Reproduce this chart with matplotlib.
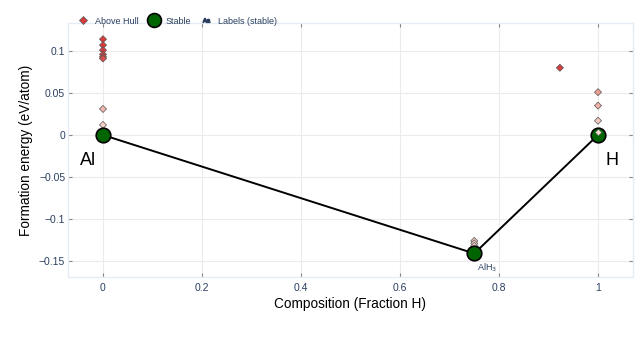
import numpy as np
import matplotlib
matplotlib.use('Agg')
import matplotlib.pyplot as plt
from matplotlib.colors import LinearSegmentedColormap
from matplotlib.lines import Line2D
from matplotlib.ticker import FuncFormatter

plt.rcParams['font.family'] = ['Liberation Sans', 'DejaVu Sans']

# Stable phases (convex hull)
stable_x = [0.0, 0.75, 1.0]
stable_e = [0.0, -0.141, 0.0]
stable_names = ['Al', 'AlH$_3$', 'H']

# Unstable (above hull) entries
unstable_x = [0, 0, 0, 0, 0, 0, 0, 0,
              0.75, 0.75, 0.75, 0.75,
              0.923, 1, 1, 1, 1]
unstable_e = [0.114, 0.107, 0.101, 0.096, 0.093, 0.091, 0.031, 0.012,
              -0.126, -0.129, -0.132, -0.136,
              0.080, 0.051, 0.035, 0.017, 0.003]
e_above_hull = [0.114, 0.107, 0.101, 0.096, 0.093, 0.091, 0.031, 0.012,
                0.015, 0.012, 0.009, 0.005,
                0.123, 0.051, 0.035, 0.017, 0.003]

x_ticks = [0, 0.2, 0.4, 0.6, 0.8, 1]
y_ticks = [-0.15, -0.1, -0.05, 0, 0.05, 0.1]

TICK_COLOR = '#2a3f5f'
GRID_COLOR = '#ebebeb'
FRAME_COLOR = '#e5ecf6'

cmap = LinearSegmentedColormap.from_list('hull', ['#f7ddd5', '#eea090', '#d83c3c'])

fig = plt.figure(figsize=(6.44, 3.53), dpi=100)
ax = fig.add_axes([68 / 644, 1 - 277 / 353, 565 / 644, 254 / 353])

ax.plot(stable_x, stable_e, color='black', lw=1.4, zorder=2)
ax.scatter(unstable_x, unstable_e, c=e_above_hull, cmap=cmap, vmin=0, vmax=0.1,
           marker='D', s=13, edgecolors='#555555', linewidths=0.5, zorder=3)
ax.scatter(stable_x, stable_e, s=110, color='#006400', edgecolors='black',
           linewidths=1.2, zorder=4)
# the nearly-degenerate H entry drawn on top of the stable H marker
ax.scatter([unstable_x[-1]], [unstable_e[-1]], c=[e_above_hull[-1]], cmap=cmap,
           vmin=0, vmax=0.1, marker='D', s=10, edgecolors='#777777',
           linewidths=0.4, zorder=5)

# labels for stable phases
ax.text(-0.03, -0.030, stable_names[0], fontsize=13, ha='center', va='center')
ax.text(1.028, -0.030, stable_names[2], fontsize=13, ha='center', va='center')
ax.text(0.776, -0.158, stable_names[1], fontsize=6.5, ha='center', va='center',
        color=TICK_COLOR)

ax.set_xlim(-0.0707, 1.0707)
ax.set_ylim(-0.169, 0.1333)
ax.set_xticks(x_ticks)
ax.set_yticks(y_ticks)

fmt = FuncFormatter(lambda v, p: ('%g' % v).replace('-', '\u2212'))
ax.xaxis.set_major_formatter(fmt)
ax.yaxis.set_major_formatter(fmt)

ax.grid(True, color=GRID_COLOR, lw=0.8)
ax.set_axisbelow(True)
for s in ax.spines.values():
    s.set_color(FRAME_COLOR)
    s.set_linewidth(1.0)
ax.tick_params(axis='both', direction='in', colors='#888888', labelcolor=TICK_COLOR,
               labelsize=7.5, length=3, width=0.8,
               top=True, right=True)
ax.tick_params(axis='x', pad=4)
ax.tick_params(axis='y', pad=2)

ax.set_xlabel('Composition (Fraction H)', fontsize=9.8, labelpad=3)
ax.set_ylabel('Formation energy (eV/atom)', fontsize=9.8, labelpad=4)

handles = [
    Line2D([], [], marker='D', ls='none', markersize=4, markerfacecolor='#d83c3c',
           markeredgecolor='#555555', markeredgewidth=0.5),
    Line2D([], [], marker='o', ls='none', markersize=10, markerfacecolor='#006400',
           markeredgecolor='black', markeredgewidth=1.2),
    Line2D([], [], marker=r'$\mathregular{Aa}$', ls='none', markersize=5,
           color=TICK_COLOR),
]
fig.legend(handles, ['Above Hull', 'Stable', 'Labels (stable)'], loc='center left',
           bbox_to_anchor=(68 / 644, 1 - 21 / 353), ncol=3, frameon=False,
           fontsize=6.5, handlelength=1.5, handletextpad=0.6, columnspacing=0.9,
           labelcolor=TICK_COLOR)

fig.savefig('out.png', dpi=100)
